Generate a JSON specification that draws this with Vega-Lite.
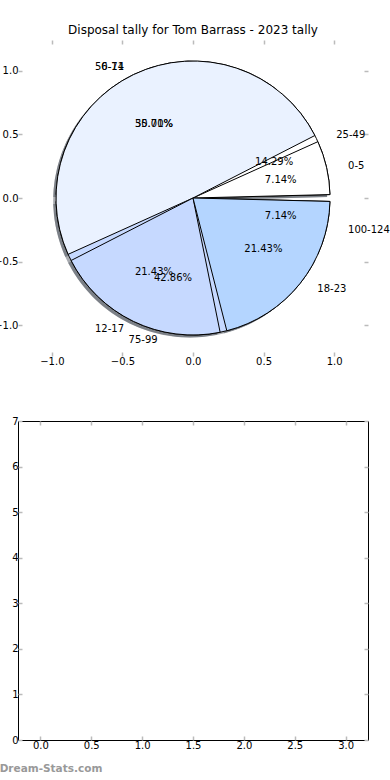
{
  "$schema": "https://vega.github.io/schema/vega-lite/v6.json",
  "background": "white",
  "padding": {"left": -7, "top": 24, "right": 0, "bottom": 0},
  "bounds": "flush",
  "spacing": 65,
  "config": {
    "font": "DejaVu Sans",
    "axis": {
      "labelFont": "DejaVu Sans",
      "labelFontSize": 10,
      "labelColor": "#000000",
      "tickColor": "#bbbbbb",
      "tickWidth": 1.5,
      "tickSize": -4,
      "grid": false,
      "domain": false,
      "title": null,
      "labelPadding": 4,
      "maxExtent": 20,
      "minExtent": 0
    },
    "title": {"font": "DejaVu Sans", "fontSize": 12, "fontWeight": "normal", "color": "#000000"}
  },
  "datasets": {
    "pies": [
      {"pie": 2, "i": 0, "cat": "25-49", "n": 2, "pct": "14.29%"},
      {"pie": 2, "i": 1, "cat": "50-74", "n": 5, "pct": "35.71%"},
      {"pie": 2, "i": 2, "cat": "75-99", "n": 6, "pct": "42.86%"},
      {"pie": 2, "i": 3, "cat": "100-124", "n": 1, "pct": "7.14%"},
      {"pie": 1, "i": 0, "cat": "0-5", "n": 1, "pct": "7.14%"},
      {"pie": 1, "i": 1, "cat": "6-11", "n": 7, "pct": "50.00%"},
      {"pie": 1, "i": 2, "cat": "12-17", "n": 3, "pct": "21.43%"},
      {"pie": 1, "i": 3, "cat": "18-23", "n": 3, "pct": "21.43%"}
    ]
  },
  "vconcat": [
    {
      "width": 350,
      "height": 316,
      "title": {"text": "Disposal tally for Tom Barrass - 2023 tally", "offset": 2},
      "view": {"stroke": null},
      "layer": [
        {
          "data": {"values": []},
          "mark": {"type": "point", "opacity": 0},
          "encoding": {
            "x": {"field": "x", "type": "quantitative", "scale": {"domain": [-1.24, 1.24], "nice": false, "zero": false}, "axis": {"orient": "bottom", "values": [-1, -0.5, 0, 0.5, 1], "format": ".1f"}},
            "y": {"field": "y", "type": "quantitative", "scale": {"domain": [-1.24, 1.24], "nice": false, "zero": false}, "axis": {"orient": "left", "values": [-1, -0.5, 0, 0.5, 1], "format": ".1f"}}
          }
        },
        {
          "data": {"values": []},
          "mark": {"type": "point", "opacity": 0},
          "encoding": {
            "x": {"field": "x", "type": "quantitative", "axis": {"orient": "top", "labels": false, "values": [-1, -0.5, 0, 0.5, 1]}},
            "y": {"field": "y", "type": "quantitative", "axis": {"orient": "right", "labels": false, "values": [-1, -0.5, 0, 0.5, 1]}}
          }
        },
        {
          "data": {"name": "pies"},
          "transform": [{"stack": "n", "groupby": ["pie"], "sort": [{"field": "i"}], "as": ["s0", "s1"]}],
          "mark": {"type": "arc", "radius": 137, "padAngle": 0.05, "fill": "#50555f", "opacity": 0.5},
          "encoding": {
            "theta": {"field": "s0", "type": "quantitative", "stack": null, "scale": {"domain": [0, 14], "range": [1.5708, -4.7124]}},
            "theta2": {"field": "s1"},
            "x": {"datum": -0.02, "type": "quantitative", "axis": null},
            "y": {"datum": -0.02, "type": "quantitative", "axis": null}
          }
        },
        {
          "data": {"name": "pies"},
          "transform": [{"stack": "n", "groupby": ["pie"], "sort": [{"field": "i"}], "as": ["s0", "s1"]}],
          "mark": {"type": "arc", "radius": 137, "padAngle": 0.05, "stroke": "#000000", "strokeWidth": 1},
          "encoding": {
            "theta": {"field": "s0", "type": "quantitative", "stack": null},
            "theta2": {"field": "s1"},
            "x": {"datum": 0, "type": "quantitative", "axis": null},
            "y": {"datum": 0, "type": "quantitative", "axis": null},
            "color": {
              "field": "cat", "type": "nominal", "legend": null,
              "scale": {
                "domain": ["0-5", "6-11", "12-17", "18-23", "25-49", "50-74", "75-99", "100-124"],
                "range": ["#ffffff", "#eaf2ff", "#c6d9ff", "#b4d5ff", "#ffffff", "#eaf2ff", "#c6d9ff", "#b4d5ff"]
              }
            }
          }
        },
        {
          "data": {"name": "pies"},
          "transform": [{"filter": "datum.pie == 2"}, {"stack": "n", "groupby": ["pie"], "sort": [{"field": "i"}], "as": ["s0", "s1"]}],
          "mark": {"type": "text", "radius": 145.5, "font": "DejaVu Sans", "fontSize": 10, "color": "#000000", "baseline": "middle", "align": {"expr": "cos(PI*(datum.s0+datum.s1)/14) > 0 ? 'left' : 'right'"}, "dx": {"expr": "13.5*cos(PI*(datum.s0+datum.s1)/14)"}},
          "encoding": {
            "theta": {"field": "n", "type": "quantitative", "stack": true},
            "order": {"field": "i"},
            "text": {"field": "cat"}
          }
        },
        {
          "data": {"name": "pies"},
          "transform": [{"filter": "datum.pie == 2"}, {"stack": "n", "groupby": ["pie"], "sort": [{"field": "i"}], "as": ["s0", "s1"]}],
          "mark": {"type": "text", "radius": 82, "font": "DejaVu Sans", "fontSize": 10, "color": "#000000", "baseline": "middle", "align": "center", "dx": {"expr": "8*cos(PI*(datum.s0+datum.s1)/14)"}},
          "encoding": {
            "theta": {"field": "n", "type": "quantitative", "stack": true},
            "order": {"field": "i"},
            "text": {"field": "pct"}
          }
        },
        {
          "data": {"name": "pies"},
          "transform": [{"filter": "datum.pie == 1"}, {"stack": "n", "groupby": ["pie"], "sort": [{"field": "i"}], "as": ["s0", "s1"]}],
          "mark": {"type": "text", "radius": 145.5, "font": "DejaVu Sans", "fontSize": 10, "color": "#000000", "baseline": "middle", "align": {"expr": "cos(PI*(datum.s0+datum.s1)/14) > 0 ? 'left' : 'right'"}, "dx": {"expr": "13.5*cos(PI*(datum.s0+datum.s1)/14)"}},
          "encoding": {
            "theta": {"field": "n", "type": "quantitative", "stack": true},
            "order": {"field": "i"},
            "text": {"field": "cat"}
          }
        },
        {
          "data": {"name": "pies"},
          "transform": [{"filter": "datum.pie == 1"}, {"stack": "n", "groupby": ["pie"], "sort": [{"field": "i"}], "as": ["s0", "s1"]}],
          "mark": {"type": "text", "radius": 82, "font": "DejaVu Sans", "fontSize": 10, "color": "#000000", "baseline": "middle", "align": "center", "dx": {"expr": "8*cos(PI*(datum.s0+datum.s1)/14)"}},
          "encoding": {
            "theta": {"field": "n", "type": "quantitative", "stack": true},
            "order": {"field": "i"},
            "text": {"field": "pct"}
          }
        }
      ]
    },
    {
      "width": 350,
      "height": 319,
      "view": {"stroke": "#000000", "strokeWidth": 1},
      "title": {"text": "Dream-Stats.com", "orient": "bottom", "anchor": "start", "frame": "bounds", "fontSize": 10.5, "fontWeight": "bold", "color": "#999999", "offset": 14, "dx": -12},
      "layer": [
        {
          "data": {"values": []},
          "mark": {"type": "point", "opacity": 0},
          "encoding": {
            "x": {"field": "x", "type": "quantitative", "scale": {"domain": [-0.22, 3.22], "nice": false, "zero": false}, "axis": {"orient": "bottom", "values": [0, 0.5, 1, 1.5, 2, 2.5, 3], "format": ".1f"}},
            "y": {"field": "y", "type": "quantitative", "scale": {"domain": [0, 7], "nice": false, "zero": false}, "axis": {"orient": "left", "values": [0, 1, 2, 3, 4, 5, 6, 7], "format": "d"}}
          }
        },
        {
          "data": {"values": []},
          "mark": {"type": "point", "opacity": 0},
          "encoding": {
            "x": {"field": "x", "type": "quantitative", "axis": {"orient": "top", "labels": false, "values": [0, 0.5, 1, 1.5, 2, 2.5, 3]}},
            "y": {"field": "y", "type": "quantitative", "axis": {"orient": "right", "labels": false, "values": [0, 1, 2, 3, 4, 5, 6, 7]}}
          }
        }
      ]
    }
  ]
}
